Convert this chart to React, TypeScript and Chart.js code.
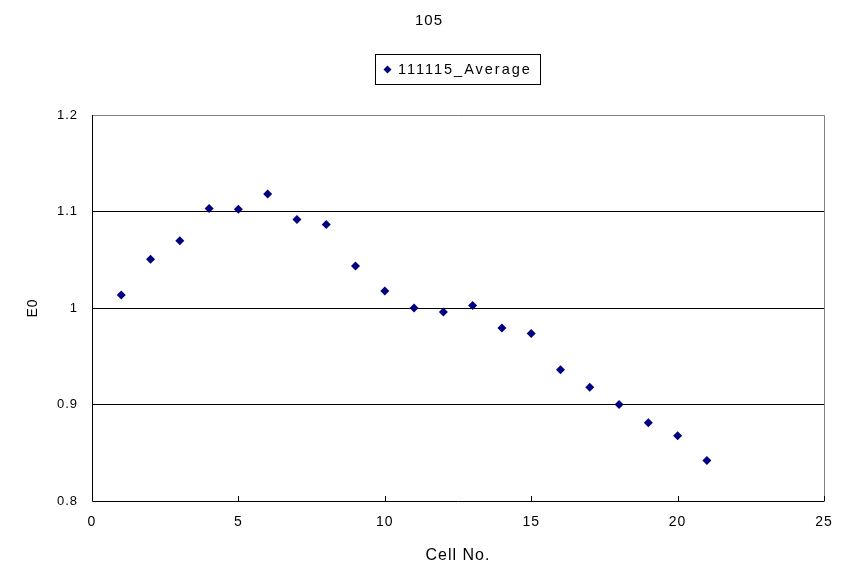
import React, { useEffect, useRef } from "react";
import { Chart, registerables } from "chart.js";

Chart.register(...registerables);

const chartTitle = "105";
const seriesLabel = "111115_Average";
const cellNo = [1, 2, 3, 4, 5, 6, 7, 8, 9, 10, 11, 12, 13, 14, 15, 16, 17, 18, 19, 20, 21];
const e0 = [
  1.0134, 1.0505, 1.0697, 1.1031, 1.1024, 1.1181, 1.0918, 1.0866, 1.0436, 1.0175,
  1.0, 0.9959, 1.0027, 0.9792, 0.9735, 0.936, 0.918, 0.9, 0.881, 0.8675, 0.842,
];
const xTitle = "Cell No.";
const yTitle = "E0";

const FONT = "'Liberation Sans', Arial, sans-serif";
const NAVY = "#000080";

const setSpacing = (chart: any) => {
  if (chart.ctx && "letterSpacing" in chart.ctx) chart.ctx.letterSpacing = "1px";
};

const frameAndTextPlugin = {
  id: "frameAndText",
  beforeUpdate: setSpacing,
  beforeLayout: setSpacing,
  beforeDraw: setSpacing,
  afterDraw(chart: any) {
    const { ctx, chartArea } = chart;
    const { left, right, top, bottom } = chartArea;
    ctx.save();
    // plot-area frame: gray top & right
    ctx.strokeStyle = "#808080";
    ctx.lineWidth = 1;
    ctx.beginPath();
    ctx.moveTo(left, top + 0.5);
    ctx.lineTo(right + 0.5, top + 0.5);
    ctx.lineTo(right + 0.5, bottom);
    ctx.stroke();
    // black axes
    ctx.strokeStyle = "#000000";
    ctx.beginPath();
    ctx.moveTo(left + 0.5, top);
    ctx.lineTo(left + 0.5, bottom + 0.5);
    ctx.lineTo(right + 0.5, bottom + 0.5);
    ctx.stroke();
    // inward x ticks
    const xs = chart.scales.x;
    ctx.beginPath();
    xs.ticks.forEach((t: any) => {
      const px = Math.round(xs.getPixelForValue(t.value)) + 0.5;
      ctx.moveTo(px, bottom);
      ctx.lineTo(px, bottom - 5);
    });
    ctx.stroke();

    // title
    ctx.fillStyle = "#000";
    ctx.font = `15px ${FONT}`;
    ctx.letterSpacing = "1px";
    ctx.textAlign = "center";
    ctx.textBaseline = "middle";
    ctx.fillText(chartTitle, 429, 21);

    // legend
    const label = chart.data.datasets[0].label;
    ctx.font = `14.5px ${FONT}`;
    ctx.letterSpacing = "2px";
    const boxL = 375.5, boxT = 54.5, boxH = 30, boxW = 165;
    ctx.strokeStyle = "#000";
    ctx.strokeRect(boxL, boxT, boxW, boxH);
    const my = boxT + boxH / 2;
    const mx = 387.5;
    ctx.fillStyle = NAVY;
    ctx.beginPath();
    ctx.moveTo(mx, my - 4);
    ctx.lineTo(mx + 4, my);
    ctx.lineTo(mx, my + 4);
    ctx.lineTo(mx - 4, my);
    ctx.closePath();
    ctx.fill();
    ctx.fillStyle = "#000";
    ctx.textAlign = "left";
    ctx.fillText(label, 398, my + 0.5);
    ctx.restore();
  },
};

export default function App() {
  const ref = useRef<HTMLCanvasElement | null>(null);
  useEffect(() => {
    if (!ref.current) return;
    const chart = new Chart(ref.current, {
      type: "scatter",
      data: {
        datasets: [
          {
            label: seriesLabel,
            data: cellNo.map((x, i) => ({ x, y: e0[i] })),
            pointStyle: "rectRot",
            pointRadius: 4.5,
            pointHoverRadius: 4.5,
            backgroundColor: NAVY,
            borderColor: NAVY,
            borderWidth: 0,
          },
        ],
      },
      options: {
        animation: false,
        responsive: false,
        maintainAspectRatio: false,
        events: [],
        layout: { padding: { top: 115, right: 39, left: 0, bottom: 0 } },
        plugins: {
          legend: { display: false },
          title: { display: false },
          tooltip: { enabled: false },
        },
        scales: {
          x: {
            type: "linear",
            min: 0,
            max: 25,
            ticks: {
              stepSize: 5,
              color: "#000",
              padding: 13,
              font: { family: FONT, size: 14 },
              maxRotation: 0,
            },
            grid: { display: false, drawTicks: false },
            border: { display: false },
            title: {
              display: true,
              text: xTitle,
              color: "#000",
              font: { family: FONT, size: 16 },
              padding: { top: 0, bottom: 10 },
            },
            afterFit: (s: any) => {
              s.height = 74;
            },
          },
          y: {
            type: "linear",
            min: 0.8,
            max: 1.2,
            ticks: {
              stepSize: 0.1,
              color: "#000",
              padding: 14,
              font: { family: FONT, size: 13 },
              callback: (v: any) => String(Math.round(Number(v) * 10) / 10),
            },
            grid: {
              drawTicks: false,
              color: (c: any) =>
                c.tick && (Math.abs(c.tick.value - 1.2) < 1e-6 || Math.abs(c.tick.value - 0.8) < 1e-6)
                  ? "rgba(0,0,0,0)"
                  : "#000",
              lineWidth: 1,
            },
            border: { display: false },
            title: {
              display: true,
              text: yTitle,
              color: "#000",
              font: { family: FONT, size: 14 },
              padding: { top: 25, bottom: 0 },
            },
            afterFit: (s: any) => {
              s.width = 92;
            },
          },
        },
      },
      plugins: [frameAndTextPlugin],
    });
    return () => chart.destroy();
  }, []);
  return (
    <div style={{ position: "absolute", left: 0, top: 0, width: 863, height: 575, background: "#fff" }}>
      <canvas ref={ref} width={863} height={575} style={{ display: "block", width: 863, height: 575 }} />
    </div>
  );
}
